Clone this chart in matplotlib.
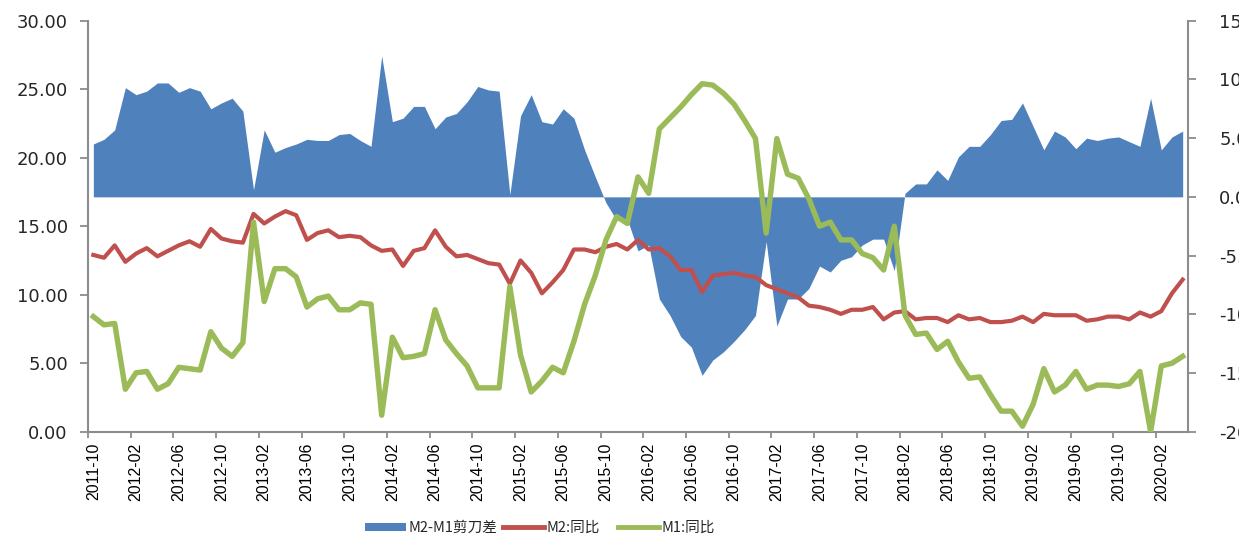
import numpy as np
import matplotlib
matplotlib.use("Agg")
import matplotlib.pyplot as plt
from matplotlib.patches import Patch
from matplotlib.lines import Line2D
from matplotlib.ticker import FormatStrFormatter, FixedLocator

# ---------------- data (monthly, 2011-10 .. 2020-04) ----------------
m2_yoy = [12.9, 12.7, 13.6,
          12.4, 13.0, 13.4, 12.8, 13.2, 13.6, 13.9, 13.5, 14.8, 14.1, 13.9, 13.8,
          15.9, 15.2, 15.7, 16.1, 15.8, 14.0, 14.5, 14.7, 14.2, 14.3, 14.2, 13.6,
          13.2, 13.3, 12.1, 13.2, 13.4, 14.7, 13.5, 12.8, 12.9, 12.6, 12.3, 12.2,
          10.8, 12.5, 11.6, 10.1, 10.9, 11.8, 13.3, 13.3, 13.1, 13.5, 13.7, 13.3,
          14.0, 13.3, 13.4, 12.8, 11.8, 11.8, 10.2, 11.4, 11.5, 11.6, 11.4, 11.3,
          10.7, 10.4, 10.1, 9.8, 9.2, 9.1, 8.9, 8.6, 8.9, 8.9, 9.1, 8.2,
          8.7, 8.8, 8.2, 8.3, 8.3, 8.0, 8.5, 8.2, 8.3, 8.0, 8.0, 8.1,
          8.4, 8.0, 8.6, 8.5, 8.5, 8.5, 8.1, 8.2, 8.4, 8.4, 8.2, 8.7,
          8.4, 8.8, 10.1, 11.1]

m1_yoy = [8.4, 7.8, 7.9,
          3.1, 4.3, 4.4, 3.1, 3.5, 4.7, 4.6, 4.5, 7.3, 6.1, 5.5, 6.5,
          15.3, 9.5, 11.9, 11.9, 11.3, 9.1, 9.7, 9.9, 8.9, 8.9, 9.4, 9.3,
          1.2, 6.9, 5.4, 5.5, 5.7, 8.9, 6.7, 5.7, 4.8, 3.2, 3.2, 3.2,
          10.6, 5.6, 2.9, 3.7, 4.7, 4.3, 6.6, 9.3, 11.4, 14.0, 15.7, 15.2,
          18.6, 17.4, 22.1, 22.9, 23.7, 24.6, 25.4, 25.3, 24.7, 23.9, 22.7, 21.4,
          14.5, 21.4, 18.8, 18.5, 17.0, 15.0, 15.3, 14.0, 14.0, 13.0, 12.7, 11.8,
          15.0, 8.5, 7.1, 7.2, 6.0, 6.6, 5.1, 3.9, 4.0, 2.7, 1.5, 1.5,
          0.4, 2.0, 4.6, 2.9, 3.4, 4.4, 3.1, 3.4, 3.4, 3.3, 3.5, 4.4,
          0.0, 4.8, 5.0, 5.5]

spread = [4.5, 4.9, 5.7,
          9.3, 8.7, 9.0, 9.7, 9.7, 8.9, 9.3, 9.0, 7.5, 8.0, 8.4, 7.3,
          0.6, 5.7, 3.8, 4.2, 4.5, 4.9, 4.8, 4.8, 5.3, 5.4, 4.8, 4.3,
          12.0, 6.4, 6.7, 7.7, 7.7, 5.8, 6.8, 7.1, 8.1, 9.4, 9.1, 9.0,
          0.2, 6.9, 8.7, 6.4, 6.2, 7.5, 6.7, 4.0, 1.7, -0.5, -2.0, -1.9,
          -4.6, -4.1, -8.7, -10.1, -11.9, -12.8, -15.2, -13.9, -13.2, -12.3, -11.3, -10.1,
          -3.8, -11.0, -8.7, -8.7, -7.8, -5.9, -6.4, -5.4, -5.1, -4.1, -3.6, -3.6,
          -6.3, 0.3, 1.1, 1.1, 2.3, 1.4, 3.4, 4.3, 4.3, 5.3, 6.5, 6.6,
          8.0, 6.0, 4.0, 5.6, 5.1, 4.1, 5.0, 4.8, 5.0, 5.1, 4.7, 4.3,
          8.4, 4.0, 5.1, 5.6]

tick_labels = ['2011-10', '2012-02', '2012-06', '2012-10', '2013-02', '2013-06',
               '2013-10', '2014-02', '2014-06', '2014-10', '2015-02', '2015-06',
               '2015-10', '2016-02', '2016-06', '2016-10', '2017-02', '2017-06',
               '2017-10', '2018-02', '2018-06', '2018-10', '2019-02', '2019-06',
               '2019-10', '2020-02']

series_names = ['M2-M1剪刀差', 'M2:同比', 'M1:同比']

# ---------------- styling ----------------
BLUE = '#4F81BD'
RED = '#C0504D'
GREEN = '#9BBB59'
AXC = '#8C8C8C'
TXT = '#262626'

n = len(m2_yoy)
x = np.arange(n)

W, H = 1239, 541
fig = plt.figure(figsize=(W / 100, H / 100), dpi=100)
left_px, right_px, top_px, bot_px = 88, 1188, 20.7, 431.7
ax1 = fig.add_axes([left_px / W, 1 - bot_px / H, (right_px - left_px) / W, (bot_px - top_px) / H])
ax2 = ax1.twinx()

# area on secondary axis
ax2.fill_between(x, 0, spread, color=BLUE, linewidth=0, zorder=1)
ax2.set_ylim(-20, 15)
ax2.set_yticks(np.arange(-20, 15.1, 5))
ax2.yaxis.set_major_formatter(FormatStrFormatter('%.2f'))

# lines on primary axis
ax1.plot(x, m2_yoy, color=RED, lw=3.0, solid_joinstyle='round', zorder=3)
ax1.plot(x, m1_yoy, color=GREEN, lw=3.9, solid_joinstyle='round', zorder=4)
ax1.set_ylim(0, 30)
ax1.set_yticks(np.arange(0, 30.1, 5))
ax1.yaxis.set_major_formatter(FormatStrFormatter('%.2f'))
ax1.set_xlim(-0.5, n - 0.5)

ax1.set_zorder(ax2.get_zorder() + 1)
ax1.patch.set_visible(False)

# x ticks: marks at category boundaries, labels at categories
label_pos = np.arange(0, n, 4)[:len(tick_labels)]
ax1.xaxis.set_major_locator(FixedLocator(label_pos - 0.5))
ax1.set_xticklabels([], minor=False)
ax1.set_xticks(label_pos, minor=True)
ax1.set_xticklabels(tick_labels, minor=True, rotation=90,
                    family=['Liberation Sans', 'DejaVu Sans'],
                    fontsize=11.4, color='black')
ax1.tick_params(axis='x', which='major', length=4.5, width=1.3, color=AXC, direction='out')
ax1.tick_params(axis='x', which='minor', length=0, pad=8)

# spines
for ax in (ax1, ax2):
    ax.spines['top'].set_visible(False)
ax1.spines['right'].set_visible(False)
ax2.spines['left'].set_visible(False)
ax2.spines['bottom'].set_visible(False)
for s in ('left', 'bottom'):
    ax1.spines[s].set_color(AXC)
    ax1.spines[s].set_linewidth(1.5)
ax2.spines['right'].set_color(AXC)
ax2.spines['right'].set_linewidth(1.5)

ax1.tick_params(axis='y', length=5.5, width=1.3, color=AXC, pad=9,
                labelsize=13, labelcolor=TXT)
ax2.tick_params(axis='y', length=5.5, width=1.3, color=AXC, pad=17,
                labelsize=13, labelcolor=TXT)
for lab in ax1.get_yticklabels() + ax2.get_yticklabels():
    lab.set_family('DejaVu Sans')

# legend (three entries placed like the reference)
fp = {'family': ['Noto Sans CJK SC', 'DejaVu Sans'], 'size': 10.5}
handles = [Patch(facecolor=BLUE, edgecolor='none'),
           Line2D([], [], color=RED, lw=3.5),
           Line2D([], [], color=GREEN, lw=3.5)]
starts = [365, 503, 618]
for h, name, sx in zip(handles, series_names, starts):
    leg = fig.legend([h], [name], loc='center left',
                     bbox_to_anchor=(sx / W, 1 - 528 / H), frameon=False,
                     prop=fp, handlelength=2.8, handleheight=0.5,
                     handletextpad=0.15, borderpad=0, borderaxespad=0)
    for t in leg.get_texts():
        t.set_color(TXT)

fig.savefig('out.png', dpi=100)
